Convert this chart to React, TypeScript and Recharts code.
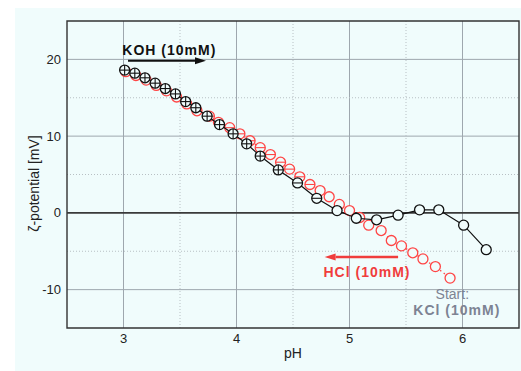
import { ScatterChart, Scatter, XAxis, YAxis, CartesianGrid, ReferenceLine, ReferenceDot, ReferenceArea } from 'recharts';

// KOH titration (black, solid line)
const kohPh = [3.01, 3.10, 3.19, 3.28, 3.37, 3.46, 3.55, 3.64, 3.74, 3.85, 3.97, 4.09, 4.21, 4.37, 4.54, 4.71, 4.89, 5.06, 5.24, 5.43, 5.62, 5.79, 6.01, 6.21];
const kohZeta = [18.6, 18.2, 17.6, 16.9, 16.2, 15.5, 14.5, 13.7, 12.6, 11.5, 10.3, 9.0, 7.4, 5.6, 3.9, 1.9, 0.3, -0.7, -0.9, -0.3, 0.4, 0.4, -1.6, -4.8];
const kohPhErr = [0.04, 0.04, 0.04, 0.04, 0.04, 0.04, 0.04, 0.04, 0.04, 0.04, 0.04, 0.04, 0.04, 0.04, 0.04, 0.04, 0, 0, 0, 0, 0, 0, 0, 0];
const kohZetaErr = [0.6, 0.6, 0.6, 0.6, 0.6, 0.6, 0.6, 0.6, 0.6, 0.6, 0.6, 0.6, 0.6, 0.4, 0, 0, 0, 0, 0, 0, 0, 0, 0, 0];

// HCl titration (red, dotted line)
const hclPh = [3.02, 3.11, 3.20, 3.29, 3.38, 3.47, 3.56, 3.65, 3.76, 3.84, 3.94, 4.03, 4.12, 4.21, 4.30, 4.39, 4.47, 4.56, 4.65, 4.74, 4.82, 4.91, 5.00, 5.09, 5.17, 5.28, 5.37, 5.46, 5.56, 5.65, 5.76, 5.89];
const hclZeta = [18.4, 17.9, 17.3, 16.6, 15.9, 15.1, 14.2, 13.3, 12.6, 11.8, 11.1, 10.3, 9.4, 8.5, 7.6, 6.6, 5.7, 4.7, 3.7, 2.9, 2.1, 1.1, 0.3, -0.6, -1.6, -2.3, -3.6, -4.3, -5.2, -6.0, -7.0, -8.5];
const hclPhErr = [0.04, 0.04, 0.04, 0.04, 0.04, 0.04, 0.04, 0.04, 0.04, 0.04, 0.04, 0.04, 0.04, 0.04, 0.04, 0.04, 0.04, 0.04, 0.04, 0, 0, 0, 0, 0, 0, 0, 0, 0, 0, 0, 0, 0];

const phTicks = [3, 4, 5, 6];
const phMinor = [3.5, 4.5, 5.5];
const zetaTicks = [-10, 0, 10, 20];
const zetaMajorGrid = [-10, 10, 20];
const zetaMinor = [-5, 5, 15];

const kohData = kohPh.map((x, i) => ({ x, y: kohZeta[i], ex: kohPhErr[i], ey: kohZetaErr[i] }));
const hclData = hclPh.map((x, i) => ({ x, y: hclZeta[i], ex: hclPhErr[i], ey: 0 }));

const FONT = 'Liberation Sans, Arial, sans-serif';
const BG = '#f0fcfc';
const RED = '#ff4545';
const GREY = '#7d8393';

// open circle filled with background; error bars fit inside the symbol
const marker = (color: string) => (p: any) => {
  const d = p.payload || {};
  return (
    <g>
      <circle cx={p.cx} cy={p.cy} r={5} fill={BG} stroke={color} strokeWidth={1.3} />
      {d.ex > 0 && <line x1={p.cx - 5} y1={p.cy} x2={p.cx + 5} y2={p.cy} stroke={color} strokeWidth={1.1} />}
      {d.ey > 0 && <line x1={p.cx} y1={p.cy - 5} x2={p.cx} y2={p.cy + 5} stroke={color} strokeWidth={1.1} />}
    </g>
  );
};

const arrow = (color: string, w: number) => (p: any) => {
  const { x1, y1, x2, y2 } = p;
  const dir = x2 > x1 ? 1 : -1;
  const head = 11;
  return (
    <g>
      <line x1={x1} y1={y1} x2={x2 - dir * head} y2={y2} stroke={color} strokeWidth={w} />
      <polygon points={`${x2},${y2} ${x2 - dir * head},${y2 - 3.5} ${x2 - dir * head},${y2 + 3.5}`} fill={color} />
    </g>
  );
};

const textAt = (label: string, color: string, bold: boolean, anchor: string) => (p: any) => (
  <text x={p.cx} y={p.cy} fill={color} fontFamily={FONT} fontSize={14} fontWeight={bold ? 700 : 400}
    letterSpacing={bold ? 1 : 0} textAnchor={anchor as any}>{label}</text>
);

const YTitle = (props: any) => {
  const vb = props.viewBox || { x: 0, y: 21, width: 67, height: 307 };
  const cx = vb.x + 34;
  const cy = vb.y + vb.height / 2 + 9;
  return (
    <text x={cx} y={cy} transform={`rotate(-90 ${cx} ${cy})`} textAnchor="middle" dominantBaseline="central"
      fontFamily={FONT} fontSize={14} fill="#222">ζ-potential [mV]</text>
  );
};

export default function App() {
  return (
    <div style={{ position: 'absolute', left: 0, top: 0, width: 521, height: 371, background: '#fff' }}>
      <div style={{ position: 'absolute', left: 15, top: 8, width: 506, height: 363, background: BG }} />
      <div style={{ position: 'absolute', left: 0, top: 0 }}>
        <ScatterChart width={521} height={371} margin={{ top: 21, right: 2, bottom: 13, left: 0 }}>
          <CartesianGrid verticalValues={phTicks} horizontalValues={zetaMajorGrid} stroke="#9ea7ae" strokeWidth={1} />
          <CartesianGrid verticalValues={phMinor} horizontalValues={zetaMinor} stroke="#b8c0c4" strokeDasharray="1 2" />
          <XAxis type="number" dataKey="x" domain={[2.5, 6.5]} ticks={phTicks} axisLine={false} tickLine={false}
            tickSize={4} tickMargin={2} height={30} allowDataOverflow
            tick={{ fontSize: 13, fill: '#222', fontFamily: FONT }}
            label={{ value: 'pH', position: 'insideBottom', offset: 0, fontSize: 14, fill: '#222', fontFamily: FONT }} />
          <YAxis type="number" dataKey="y" domain={[-15, 25]} ticks={zetaTicks} axisLine={false} tickLine={false}
            tickSize={4} tickMargin={2} width={67} allowDataOverflow
            tick={{ fontSize: 13, fill: '#222', fontFamily: FONT }}
            label={<YTitle />} />
          <ReferenceLine y={0} stroke="#3a3a3a" strokeWidth={1.8} />
          <ReferenceArea x1={2.5} x2={6.5} y1={-15} y2={25} fill="none" stroke="#333" strokeWidth={1.4} />

          <Scatter data={hclData} shape={marker(RED)} isAnimationActive={false}
            line={{ stroke: RED, strokeWidth: 1.3, strokeDasharray: '1.5 3' }} />
          <Scatter data={kohData} shape={marker('#111')} isAnimationActive={false}
            line={{ stroke: '#111', strokeWidth: 1.2 }} />

          <ReferenceLine segment={[{ x: 3.04, y: 19.83 }, { x: 3.73, y: 19.83 }]} shape={arrow('#111', 2)} />
          <ReferenceLine segment={[{ x: 5.43, y: -5.75 }, { x: 4.78, y: -5.75 }]} shape={arrow('#f03c3c', 2.5)} />
          <ReferenceDot x={2.99} y={20.57} r={0} shape={textAt('KOH (10mM)', '#111', true, 'start')} />
          <ReferenceDot x={4.77} y={-8.35} r={0} shape={textAt('HCl (10mM)', '#f03c3c', true, 'start')} />
          <ReferenceDot x={5.91} y={-11.2} r={0} shape={textAt('Start:', GREY, false, 'middle')} />
          <ReferenceDot x={5.95} y={-13.3} r={0} shape={textAt('KCl (10mM)', GREY, true, 'middle')} />
        </ScatterChart>
      </div>
    </div>
  );
}
